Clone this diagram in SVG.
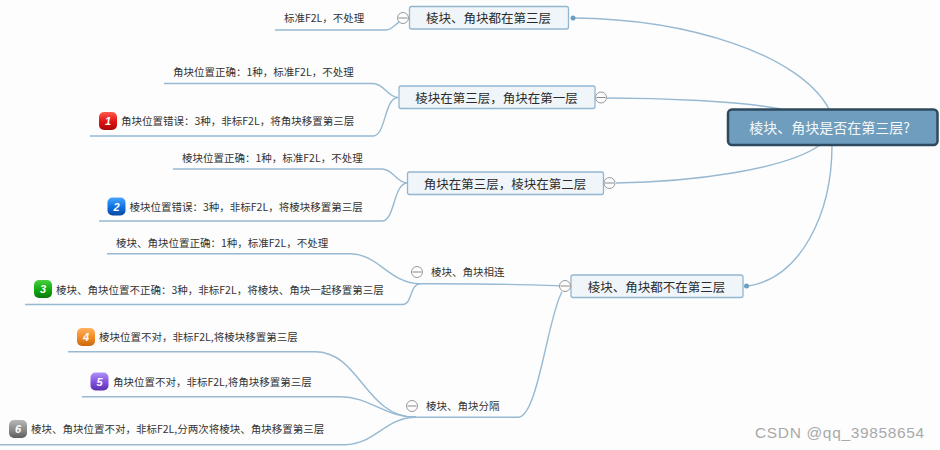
<svg xmlns="http://www.w3.org/2000/svg" width="940" height="450" viewBox="0 0 940 450">
<style>
text{font-family:"Noto Sans CJK SC",sans-serif}
.leaf{font-size:10.5px;fill:#333}
.topic{font-size:12.5px;fill:#2a2a2a;text-anchor:middle}
.box{fill:#eff5f9;stroke:#93b7d1;stroke-width:1.3}
.c{fill:none;stroke:#97b9d2;stroke-width:1.4}
.col{fill:#fdfdfd;stroke:#9a9a9a;stroke-width:1}
.minus{stroke:#8a8a8a;stroke-width:1}
.dot{fill:#6e9dbd}
.num{font-family:"Liberation Sans",sans-serif;font-size:11px;font-weight:bold;font-style:italic;fill:#fff;text-anchor:middle}
</style>
<defs>
<linearGradient id="g1" x1="0" y1="0" x2="0" y2="1"><stop offset="0" stop-color="#ff5a4a"/><stop offset=".55" stop-color="#e01010"/><stop offset="1" stop-color="#a80808"/></linearGradient>
<linearGradient id="g2" x1="0" y1="0" x2="0" y2="1"><stop offset="0" stop-color="#4aa4ff"/><stop offset=".55" stop-color="#0c6fe0"/><stop offset="1" stop-color="#0a4aa0"/></linearGradient>
<linearGradient id="g3" x1="0" y1="0" x2="0" y2="1"><stop offset="0" stop-color="#48d040"/><stop offset=".55" stop-color="#10a810"/><stop offset="1" stop-color="#0a7a0a"/></linearGradient>
<linearGradient id="g4" x1="0" y1="0" x2="0" y2="1"><stop offset="0" stop-color="#ffb060"/><stop offset=".55" stop-color="#f08a20"/><stop offset="1" stop-color="#c86810"/></linearGradient>
<linearGradient id="g5" x1="0" y1="0" x2="0" y2="1"><stop offset="0" stop-color="#b090f8"/><stop offset=".55" stop-color="#8050e0"/><stop offset="1" stop-color="#5a30b0"/></linearGradient>
<linearGradient id="g6" x1="0" y1="0" x2="0" y2="1"><stop offset="0" stop-color="#b8b8b8"/><stop offset=".55" stop-color="#8a8a8a"/><stop offset="1" stop-color="#5c5c5c"/></linearGradient>
</defs>
<rect width="940" height="450" fill="#fdfdfd"/>
<g id="connectors">
<path class="c" d="M573 18C690 19 800 55 829 109"/>
<path class="c" d="M607 98C660 98 740 101 781 109"/>
<path class="c" d="M616 183C690 182 785 170 820 145"/>
<path class="c" d="M748 286C800 278 832 215 832 145"/>
<path class="c" d="M275 30H386C393 30 396 22 402 21"/>
<path class="c" d="M164 83.5H373C384 83.5 388 97.5 398 97.5"/>
<path class="c" d="M90 136H373C386 136 384 98 398 97.5"/>
<path class="c" d="M173 169H382C393 169 397 183 407 183"/>
<path class="c" d="M99 221H382C395 221 393 184 407 183"/>
<path class="c" d="M560 286C530 284 500 284 420 283.7"/>
<path class="c" d="M107 253.700H350C378 253.700 390 283.700 420 283.700"/>
<path class="c" d="M25 304.500H403C412 304.500 410 284 420 283.700"/>
<path class="c" d="M562 292C548 315 538 417.300 518 417.300H414"/>
<path class="c" d="M68 351.700H315C360 351.700 365 417.300 416 417.300"/>
<path class="c" d="M82 396.700H340C370 396.700 385 417.300 416 417.300"/>
<path class="c" d="M0 444.700H345C375 444.700 385 417.300 416 417.300"/>
</g>
<g id="root"><rect x="728" y="109.500" width="209.500" height="35.500" rx="4" fill="#6f9dbd" stroke="#2f4a5e" stroke-width="2.500"/><text x="829.500" y="133" font-size="14" fill="#f4f8fb" text-anchor="middle">棱块、角块是否在第三层?</text></g>
<g id="n1"><rect class="box" x="409.500" y="6.500" width="159" height="22.500" rx="2"/><text class="topic" x="488.500" y="22.500">棱块、角块都在第三层</text><circle class="col" cx="403" cy="18" r="5.500"/><path class="minus" d="M398.500 18H407.500"/><circle class="dot" cx="573" cy="18" r="2.500"/></g>
<g id="n2"><rect class="box" x="399" y="86" width="196" height="22.500" rx="2"/><text class="topic" x="496.500" y="102.500">棱块在第三层，角块在第一层</text><circle class="col" cx="601" cy="97.500" r="5.500"/><path class="minus" d="M596.500 97.500H605.500"/></g>
<g id="n3"><rect class="box" x="407.500" y="172" width="196" height="22.500" rx="2"/><text class="topic" x="505" y="188.500">角块在第三层，棱块在第二层</text><circle class="col" cx="609.500" cy="183" r="5.500"/><path class="minus" d="M605 183H614"/></g>
<g id="n4"><rect class="box" x="571" y="275" width="172" height="22.500" rx="2"/><text class="topic" x="656.500" y="291.500">棱块、角块都不在第三层</text><circle class="col" cx="565" cy="286" r="5.500"/><path class="minus" d="M560.500 286H569.500"/><circle class="dot" cx="746.500" cy="286" r="2.500"/></g>
<g id="n5"><circle class="col" cx="417" cy="272" r="5.500"/><path class="minus" d="M412.500 272H421.500"/><text class="leaf" x="431" y="276">棱块、角块相连</text></g>
<g id="n6"><circle class="col" cx="412" cy="406" r="5.500"/><path class="minus" d="M407.500 406H416.500"/><text class="leaf" x="426" y="410">棱块、角块分隔</text></g>
<g id="l1"><text class="leaf" x="284" y="22">标准F2L，不处理</text></g>
<g id="l2"><text class="leaf" x="173" y="76">角块位置正确：1种，标准F2L，不处理</text></g>
<g id="l3"><rect x="99" y="112" width="18" height="18" rx="5" fill="url(#g1)"/><text class="num" x="108" y="125">1</text><text class="leaf" x="121" y="125">角块位置错误：3种，非标F2L，将角块移置第三层</text></g>
<g id="l4"><text class="leaf" x="182" y="162">棱块位置正确：1种，标准F2L，不处理</text></g>
<g id="l5"><rect x="107.500" y="197.500" width="18" height="18" rx="5" fill="url(#g2)"/><text class="num" x="116.500" y="210.500">2</text><text class="leaf" x="129.500" y="211">棱块位置错误：3种，非标F2L，将棱块移置第三层</text></g>
<g id="l6"><text class="leaf" x="116" y="247">棱块、角块位置正确：1种，标准F2L，不处理</text></g>
<g id="l7"><rect x="34" y="280" width="18" height="18" rx="5" fill="url(#g3)"/><text class="num" x="43" y="293">3</text><text class="leaf" x="56" y="294">棱块、角块位置不正确：3种，非标F2L，将棱块、角块一起移置第三层</text></g>
<g id="l8"><rect x="77" y="328" width="18" height="18" rx="5" fill="url(#g4)"/><text class="num" x="86" y="341">4</text><text class="leaf" x="99" y="341">棱块位置不对，非标F2L,将棱块移置第三层</text></g>
<g id="l9"><rect x="90.500" y="372.500" width="18" height="18" rx="5" fill="url(#g5)"/><text class="num" x="99.500" y="385.500">5</text><text class="leaf" x="113" y="385.500">角块位置不对，非标F2L,将角块移置第三层</text></g>
<g id="l10"><rect x="9" y="420" width="18" height="18" rx="5" fill="url(#g6)"/><text class="num" x="18" y="433">6</text><text class="leaf" x="31" y="433">棱块、角块位置不对，非标F2L,分两次将棱块、角块移置第三层</text></g>
<text x="755" y="438" font-size="15.500" fill="#a9a9a9" style="font-family:'Liberation Sans',sans-serif" letter-spacing="0.650">CSDN @qq_39858654</text>
</svg>
